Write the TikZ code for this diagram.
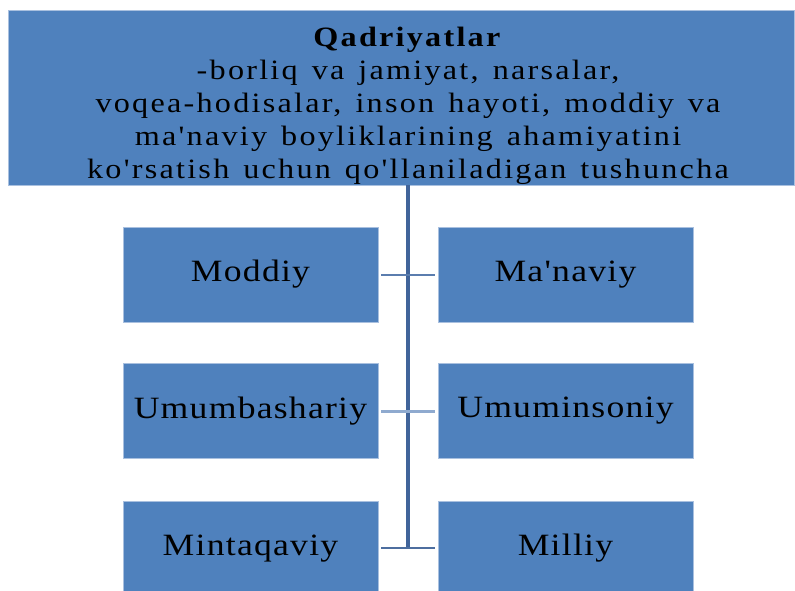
\documentclass[tikz,border=0pt]{standalone}
\usepackage{fontspec}
\setmainfont{Liberation Serif}
\newfontfamily\topfont{Liberation Serif}[FakeStretch=1.15, LetterSpace=8]
\newfontfamily\boxfont{Liberation Serif}[FakeStretch=1.15, LetterSpace=4]
\definecolor{boxblue}{HTML}{4F81BD}
\definecolor{boxedge}{HTML}{A9C0DF}
\definecolor{trunk}{HTML}{41649A}
\definecolor{linkA}{HTML}{5B7DAE}
\definecolor{linkB}{HTML}{8FAACF}
\definecolor{linkC}{HTML}{4D6E9F}
\tikzset{
  bluebox/.style={fill=boxblue, draw=boxedge, line width=0.8pt, inner sep=0pt},
  catbox/.style={bluebox, minimum width=255pt, minimum height=95pt,
    font=\boxfont\fontsize{31}{36}\selectfont, text=black},
  toptext/.style={align=center, inner sep=0pt, text=black,
    font=\topfont\fontsize{28}{33}\selectfont},
}
\begin{document}
\begin{tikzpicture}[x=1pt,y=-1pt]
\useasboundingbox (0,0) rectangle (795,591);
\clip (0,0) rectangle (795,591);
\fill[white] (0,0) rectangle (795,591);
\node[bluebox, minimum width=786pt, minimum height=175pt] (top) at (401,97.5) {};
\node[toptext] (tt) at (408,106) {\textbf{Qadriyatlar}\\
  \spaceskip=0.5em -borliq va jamiyat, narsalar,\\
  \spaceskip=0.5em voqea-hodisalar, inson hayoti, moddiy va\\
  \spaceskip=0.5em ma'naviy boyliklarining ahamiyatini\\
  \spaceskip=0.5em ko'rsatish uchun qo'llaniladigan tushuncha};
\node[catbox] (m1) at (250.5,274.5) {Moddiy};
\node[catbox] (s1) at (565.5,274.5) {Ma'naviy};
\node[catbox] (m2) at (250.5,411) {Umumbashariy};
\node[catbox] (s2) at (565.5,411) {Umuminsoniy};
\node[catbox] (m3) at (250.5,548.5) {Mintaqaviy};
\node[catbox] (s3) at (565.5,548.5) {Milliy};
\coordinate (jn) at (408,548);
\draw[trunk, line width=3.5pt] (top.south -| jn) -- (jn);
\draw[linkA, line width=2pt] ([xshift=3pt]m1.east) -- ([xshift=-3pt]s1.west);
\draw[linkB, line width=3pt] ([xshift=3pt]m2.east) -- ([xshift=-3pt]s2.west);
\draw[linkC, line width=2pt] ([xshift=3pt]m3.east |- jn) -- ([xshift=-3pt]s3.west |- jn);
\end{tikzpicture}
\end{document}
